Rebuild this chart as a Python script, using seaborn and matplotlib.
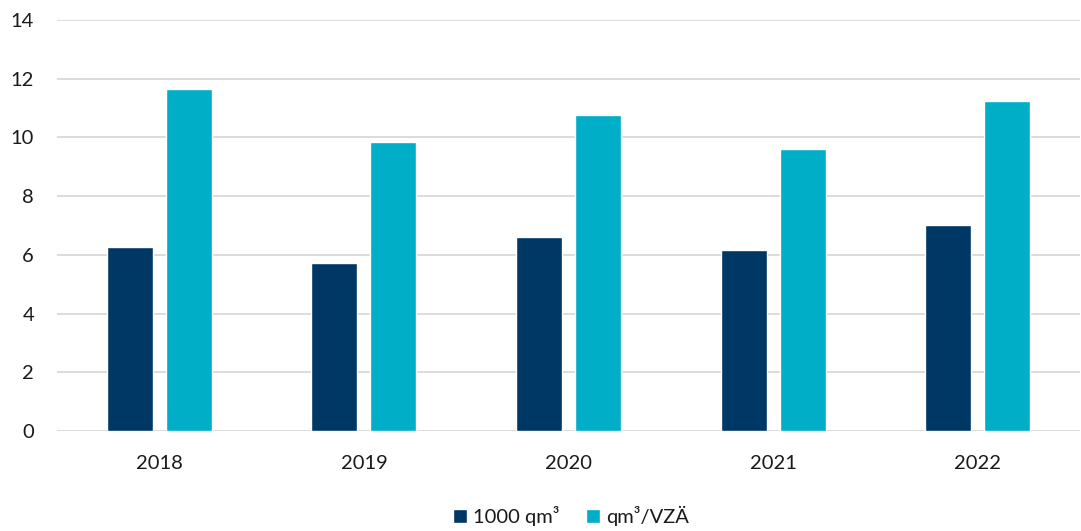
import matplotlib
matplotlib.use('Agg')
import matplotlib.pyplot as plt
import seaborn as sns
import pandas as pd

# chart data
years = ['2018', '2019', '2020', '2021', '2022']
area_1000qm = [6.28, 5.72, 6.62, 6.15, 7.01]
qm_per_vza = [11.64, 9.85, 10.76, 9.62, 11.25]
series = ['1000 qm³', 'qm³/VZÄ']
colors = ['#003865', '#00AEC7']

df = pd.DataFrame({
    'year': years * 2,
    'value': area_1000qm + qm_per_vza,
    'series': [series[0]] * len(years) + [series[1]] * len(years),
})

sns.set_style('white')
plt.rcParams['font.family'] = ['Lato', 'DejaVu Sans']

fig = plt.figure(figsize=(10.81, 5.31), dpi=100)
ax = fig.add_axes([57 / 1081, 1 - 431 / 531, 1023 / 1081, 411 / 531])

sns.barplot(data=df, x='year', y='value', hue='series', palette=colors,
            width=0.577, gap=0.22, saturation=1, ax=ax, zorder=3)

ax.set_xlim(-0.5, 4.5)
ax.set_ylim(0, 14)
ax.set_yticks(range(0, 15, 2))
ax.yaxis.grid(True, color='#d9d9d9', linewidth=1.3, zorder=0)
ax.set_axisbelow(True)
for s in ax.spines.values():
    s.set_visible(False)
ax.tick_params(axis='both', length=0, labelsize=14.5, colors='#1a1a1a')
ax.tick_params(axis='x', pad=17)
ax.tick_params(axis='y', pad=16.5)
ax.set_xlabel('')
ax.set_ylabel('')

ax.get_legend().remove()
handles, labels = ax.get_legend_handles_labels()
fig.legend(handles, labels, loc='center', bbox_to_anchor=(571 / 1081, 1 - 516 / 531),
           ncol=2, frameon=False, fontsize=14.5, handlelength=0.7, handleheight=0.7,
           handletextpad=0.3, columnspacing=1.3, labelcolor='#1a1a1a')

fig.savefig('out.png', dpi=100)
